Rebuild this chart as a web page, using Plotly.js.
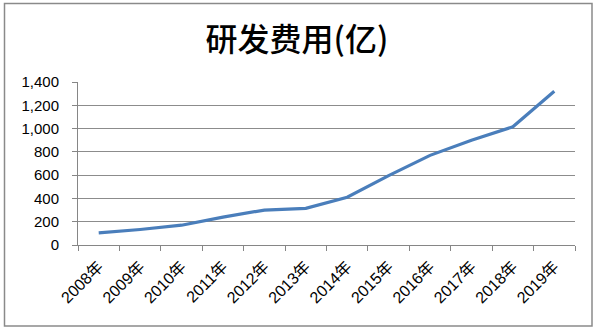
<!DOCTYPE html>
<html>
<head>
<meta charset="utf-8">
<script src="https://cdn.plot.ly/plotly-3.0.1.min.js"></script>
<style>
html,body{margin:0;padding:0;background:#fff;}
#chart{width:600px;height:330px;}
</style>
</head>
<body>
<div id="chart"></div>
<script>
const years = ["2008年","2009年","2010年","2011年","2012年","2013年","2014年","2015年","2016年","2017年","2018年","2019年"];
const rdCost = [104, 133, 170, 240, 300, 315, 410, 596, 770, 900, 1015, 1320];
const yTicks = [0, 200, 400, 600, 800, 1000, 1200, 1400];
const yTickText = ["0", "200", "400", "600", "800", "1,000", "1,200", "1,400"];
const titleText = "研发费用(亿)";

const L = 78, R = 25, T = 82, B = 85, W = 600, H = 330;
const pw = W - L - R, ph = H - T - B;
const px = v => (v - L) / pw;
const py = v => (H - B - v) / ph;

const trace = {
  x: years,
  y: rdCost,
  type: 'scatter',
  mode: 'lines',
  line: {color: '#4a7ebb', width: 3.2, shape: 'linear'},
  hoverinfo: 'skip'
};

const layout = {
  width: W, height: H,
  margin: {l: L, r: R, t: T, b: B, pad: 0},
  paper_bgcolor: '#ffffff',
  plot_bgcolor: '#ffffff',
  showlegend: false,
  title: {
    text: titleText,
    font: {family: 'Noto Sans CJK SC', size: 32, color: '#000000', weight: 500},
    x: 0.495, xref: 'container', xanchor: 'center',
    y: 1 - 40 / H, yref: 'container', yanchor: 'middle'
  },
  xaxis: {
    type: 'category',
    range: [-0.5, years.length - 0.5],
    tickangle: -45,
    tickson: 'boundaries',
    ticks: 'outside',
    ticklen: 5,
    tickcolor: '#868686',
    showline: true,
    linecolor: '#868686',
    linewidth: 1,
    showgrid: false,
    zeroline: false,
    automargin: false,
    ticklabelstandoff: 5,
    tickfont: {family: 'Liberation Sans, Noto Sans CJK SC', size: 16, color: '#000000'}
  },
  yaxis: {
    range: [0, 1400],
    tickvals: yTicks,
    ticktext: yTickText,
    ticks: 'outside',
    ticklen: 5,
    tickcolor: '#868686',
    showline: true,
    linecolor: '#868686',
    linewidth: 1,
    showgrid: true,
    gridcolor: '#8c8c8c',
    gridwidth: 1,
    zeroline: false,
    automargin: false,
    ticklabelstandoff: 10,
    tickfont: {family: 'Liberation Sans', size: 15, color: '#000000'}
  },
  shapes: [{
    type: 'rect', xref: 'paper', yref: 'paper',
    x0: px(4.5), x1: px(592), y0: py(326), y1: py(3.5),
    line: {color: '#8a8a8a', width: 1.5},
    fillcolor: 'rgba(0,0,0,0)',
    layer: 'below'
  }]
};

Plotly.newPlot('chart', [trace], layout, {staticPlot: true, displayModeBar: false});
</script>
</body>
</html>
